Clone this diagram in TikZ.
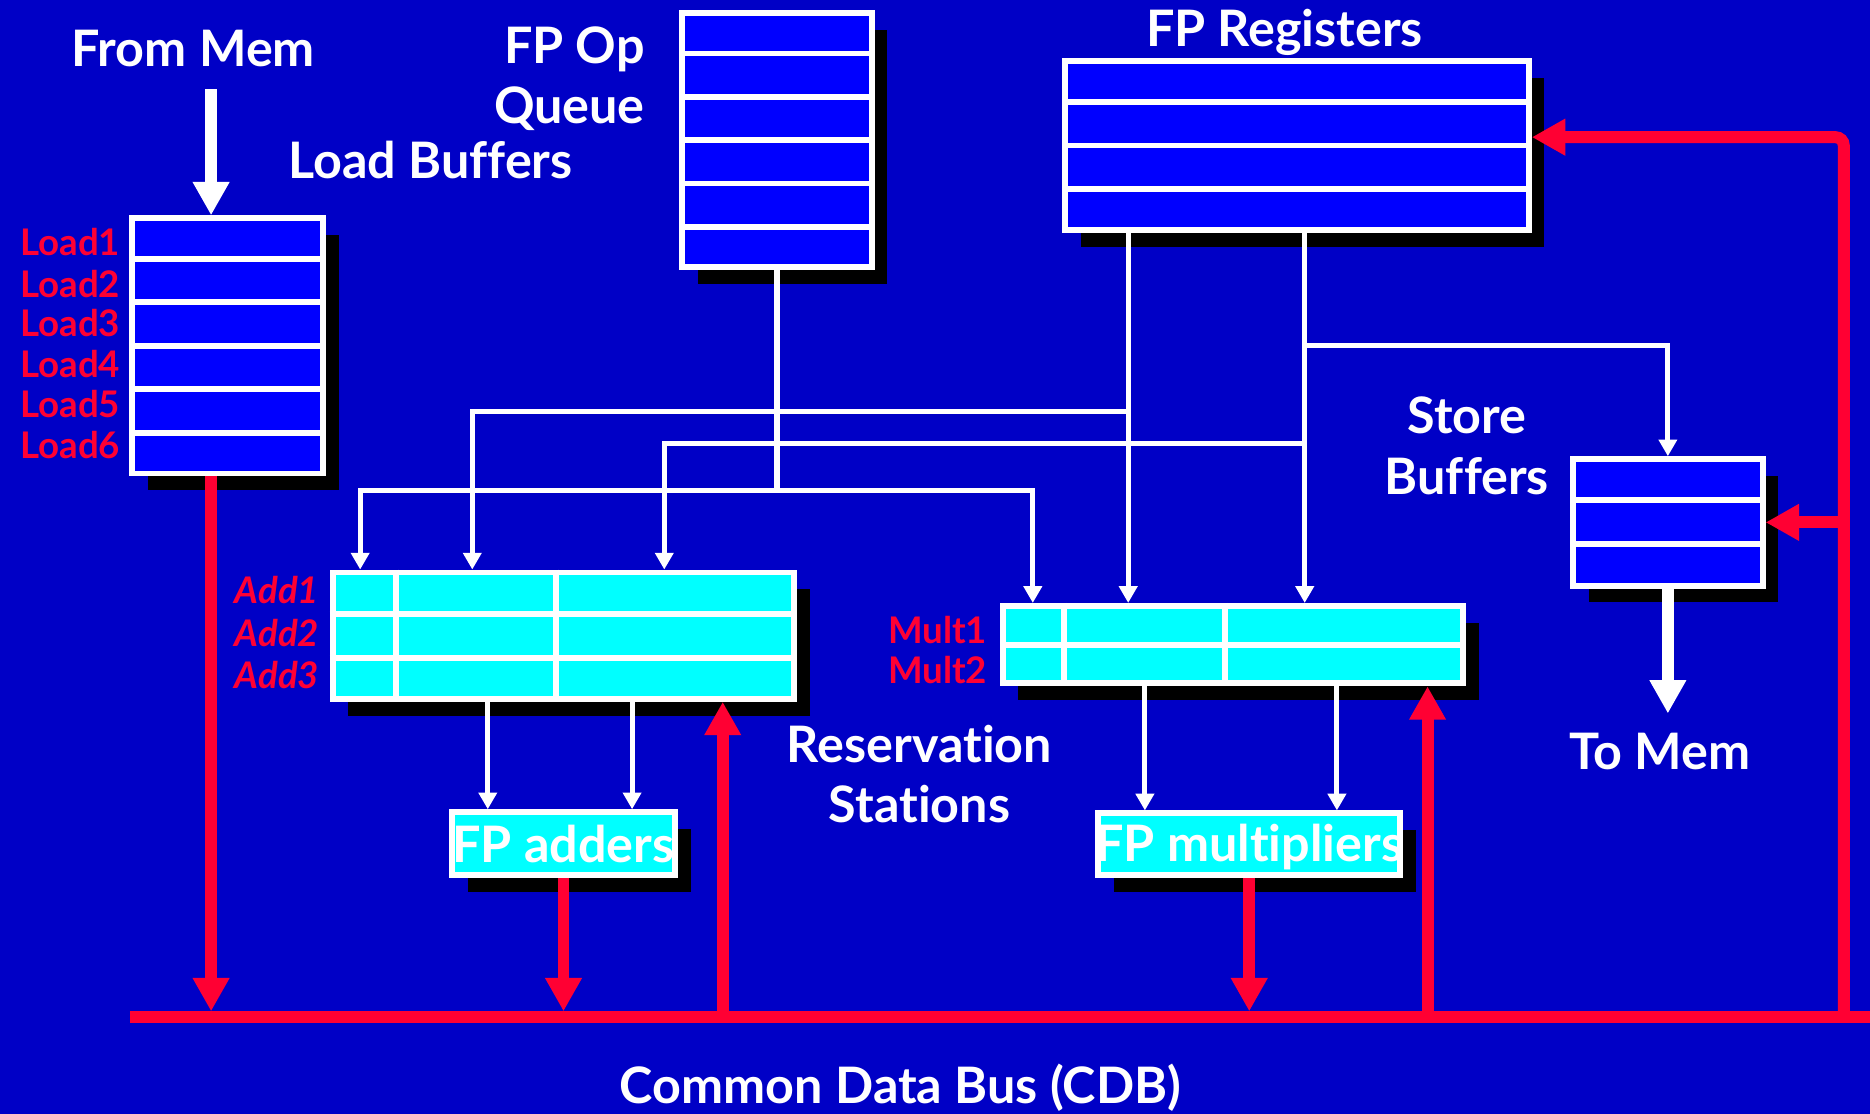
\documentclass[tikz,border=0pt]{standalone}
\usepackage{fontspec}
\setmainfont{Lato}[Ligatures={NoCommon,NoRequired,NoContextual}]
\usepackage{xcolor}
\usetikzlibrary{arrows.meta,positioning,fit,calc,shadows}
\definecolor{bgcol}{HTML}{0000C6}
\definecolor{bufcol}{HTML}{0000FF}
\definecolor{rscol}{HTML}{00FFFF}
\definecolor{cdbcol}{HTML}{FF0033}

\begin{document}
\begin{tikzpicture}[
  x=0.02cm, y=-0.02cm,
  lbl/.style={text=white,font=\bfseries\fontsize{24}{29}\selectfont,inner sep=0pt},
  tagl/.style={text=cdbcol,font=\bfseries\fontsize{17.5}{20}\selectfont,anchor=east,inner sep=0pt},
  buf/.style={draw=white,line width=2.8pt,fill=bufcol,inner sep=0pt,
              drop shadow={shadow xshift=0.26cm,shadow yshift=-0.28cm,fill=black,opacity=1}},
  rs/.style={buf,fill=rscol},
  rowline/.style={white,line width=2.8pt},
  wire/.style={white,line width=2.4pt,-{Triangle[length=0.28cm,width=0.3cm]}},
  fat/.style={line width=0.2cm,-{Triangle[length=0.56cm,width=0.58cm]}},
  cdb/.style={cdbcol,line width=0.2cm},
]
\useasboundingbox (0,0) rectangle (1568,934);
\fill[bgcol] (0,0) rectangle (1568,934);

\node[buf,fit={(111,183) (271,397)}] (load) {};
\node[buf,fit={(572,11) (731,224)}] (queue) {};
\node[buf,fit={(893,51) (1282,193)}] (regs) {};
\node[buf,fit={(1319,385) (1478,491)}] (store) {};
\node[rs,fit={(279,480) (666,586)}] (addrs) {};
\node[rs,fit={(841,508) (1227,573)}] (multrs) {};
\node[rs,fit={(379,681) (566,734)}] (adders) {};
\node[rs,fit={(921,682) (1174,734)}] (mults) {};

\foreach \n/\k in {load/6,queue/6,regs/4,store/3,addrs/3,multrs/2}{
  \pgfmathtruncatemacro\m{\k-1}
  \foreach \i in {1,...,\m}
    \draw[rowline] ($(\n.north west)!\i/\k!(\n.south west)$) -- ($(\n.north east)!\i/\k!(\n.south east)$);
}
\foreach \x in {332,466} \draw[rowline] (\x,0 |- addrs.north) -- (\x,0 |- addrs.south);
\foreach \x in {892,1027} \draw[rowline] (\x,0 |- multrs.north) -- (\x,0 |- multrs.south);

\node[lbl] (frommem) at (162,41) {From Mem};
\node[lbl] (loadtxt) at (361,134) {Load Buffers};
\node[lbl,align=right,anchor=east] (optxt) at (541,66) {FP Op\\Queue};
\node[lbl] (regtxt) at (1077,27) {FP Registers};
\node[lbl,align=center] (storetxt) at (1230,374) {Store\\Buffers};
\node[lbl,align=center] (rstxt) at (771,649) {Reservation\\Stations};
\node[lbl] (tomem) at (1392,630) {To Mem};
\node[lbl] (cdbtxt) at (755,912) {Common Data Bus (CDB)};
\node[lbl] (addtxt) at (adders) {FP adders};
\node[lbl] (multxt) at ([yshift=-0.04cm]mults.center) {FP multipliers};

\foreach \i/\y in {1/203,2/238,3/271,4/305,5/339,6/373}
  \node[tagl] (ld\i) at (101,\y) {Load\i};
\foreach \i/\y in {1/495,2/531,3/566}
  \node[tagl,font=\bfseries\itshape\fontsize{17.5}{20}\selectfont] (ad\i) at (268,\y) {Add\i};
\foreach \i/\y in {1/528,2/562}
  \node[tagl] (ml\i) at (828,\y) {Mult\i};

\coordinate (qfork) at (queue.south |- 0,411);
\coordinate (r1) at (946,0 |- regs.south);
\coordinate (r2) at (1094,0 |- regs.south);
\draw[white,line width=2.4pt] (queue.south) -- (qfork);
\draw[wire] (qfork) -| (302,0 |- addrs.north);
\draw[wire] (qfork) -| (866,0 |- multrs.north);
\draw[wire] (r1) -- (r1 |- multrs.north);
\draw[wire] (r1 |- 0,345) -| (396,0 |- addrs.north);
\draw[wire] (r2) -- (r2 |- multrs.north);
\draw[wire] (r2 |- 0,372) -| (557,0 |- addrs.north);
\draw[wire] (r2 |- 0,290) -| (store.north);
\draw[wire] (409,0 |- addrs.south) -- (409,0 |- adders.north);
\draw[wire] (530,0 |- addrs.south) -- (530,0 |- adders.north);
\draw[wire] (960,0 |- multrs.south) -- (960,0 |- mults.north);
\draw[wire] (1121,0 |- multrs.south) -- (1121,0 |- mults.north);

\coordinate (memin) at (177,75);
\draw[fat,white] (memin) -- (memin |- load.north);
\draw[fat,white,shorten >=0.32cm] (store.south) -- (store.south |- tomem.north);

\coordinate (cdbL) at (109,853);
\coordinate (cdbR) at (1568,853);
\draw[cdb] (cdbL) -- (cdbR);
\draw[fat,cdbcol,shorten >=0.1cm] (177,0 |- load.south) -- (177,0 |- cdbL);
\draw[fat,cdbcol,shorten >=0.1cm] (adders.south) -- (adders.south |- cdbL);
\draw[fat,cdbcol,shorten >=0.1cm] (mults.south) -- (mults.south |- cdbL);
\draw[fat,cdbcol] (606,0 |- cdbL) -- (606,0 |- addrs.south);
\draw[fat,cdbcol] (1197,0 |- cdbL) -- (1197,0 |- multrs.south);
\draw[fat,cdbcol,rounded corners=4pt] (1546,0 |- cdbL) |- (regs.east |- 0,115);
\draw[fat,cdbcol] (1546,0 |- store.east) -- (store.east);
\end{tikzpicture}
\end{document}
